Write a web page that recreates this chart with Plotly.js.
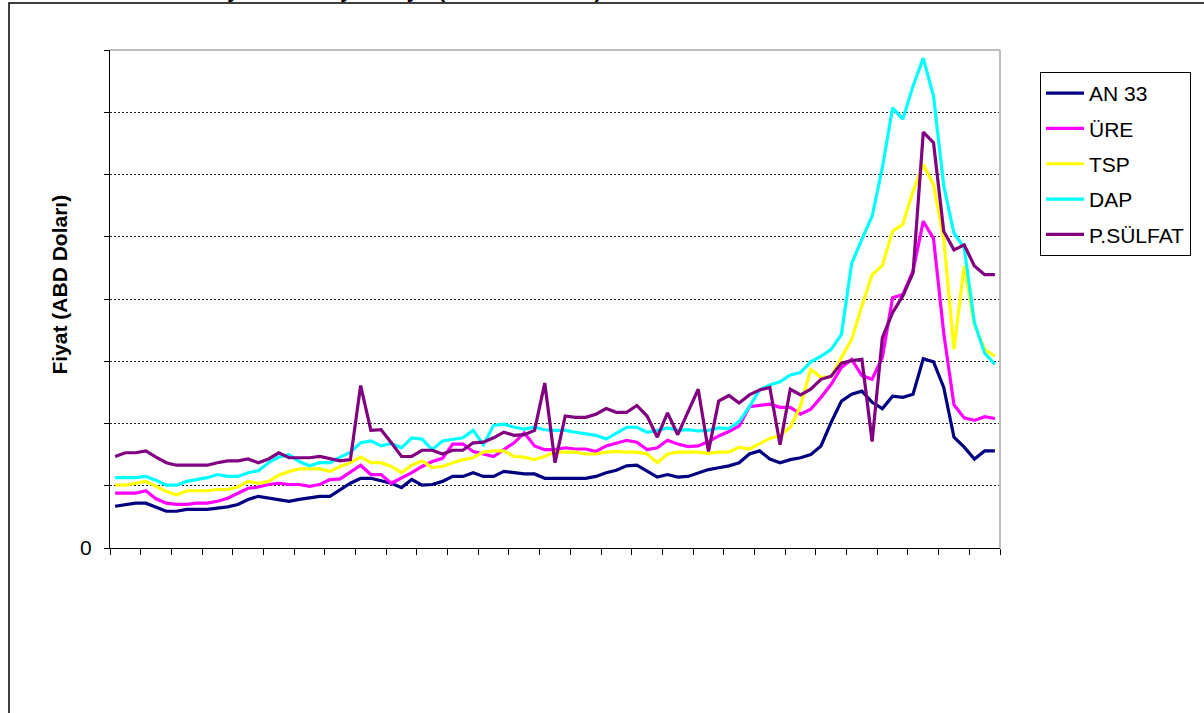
<!DOCTYPE html>
<html>
<head>
<meta charset="utf-8">
<script src="https://cdn.plot.ly/plotly-3.0.1.min.js"></script>
<style>
  html, body { margin: 0; padding: 0; background: #fff; }
  #chart { width: 1204px; height: 713px; }
</style>
</head>
<body>
<div id="chart"></div>
<script>
// Monthly observations (87 periods, index only — no labels shown on the axis)
const months = Array.from({length: 87}, (_, i) => i + 1);

const seriesNames = ["AN 33", "ÜRE", "TSP", "DAP", "P.SÜLFAT"];

const an33 = [67,70,72,72,65,59,59,62,62,62, 64,66,70,78,83,80,78,75,78,80,
  83,83,94,104,112,112,108,104,97,110, 101,102,107,115,115,121,115,115,123,121,
  119,119,112,112,112,112,112,115,121,125, 132,133,123,114,118,114,115,120,126,129,
  132,137,151,156,143,137,142,145,150,164, 202,236,247,252,234,224,244,242,247,304,
  299,258,178,162,143,156,156];

const ure = [88,88,88,92,79,72,70,70,72,72, 75,80,88,96,98,102,104,102,102,99,
  102,110,111,122,133,118,118,104,112,121, 131,139,144,167,167,155,151,147,158,169,
  185,164,158,158,161,159,159,155,164,169, 173,170,158,161,173,167,163,164,171,180,
  187,196,227,229,231,226,226,215,223,242, 263,290,303,277,271,306,402,407,445,525,
  497,345,230,209,205,211,208];

const tsp = [101,101,104,107,99,91,85,92,92,92, 94,94,98,107,104,107,117,123,127,127,
  127,123,131,137,146,137,137,131,121,133, 140,129,131,137,142,145,154,156,156,147,
  146,142,147,154,154,154,151,151,154,155, 154,154,151,137,151,154,154,154,152,154,
  154,162,159,168,176,181,194,228,287,274, 275,306,335,389,439,454,509,520,573,616,
  584,496,319,453,359,319,308];

const dap = [113,113,113,115,109,101,101,107,110,113, 118,115,115,121,124,137,146,150,139,132,
  137,137,146,154,169,172,164,168,161,177, 175,158,172,175,177,189,166,197,199,194,
  191,194,190,189,189,186,183,181,175,185, 194,194,186,189,193,189,190,188,189,193,
  192,203,227,254,262,267,278,282,299,308, 319,343,457,496,533,611,707,689,742,787,
  726,582,506,482,362,313,295];

const psulfat = [147,153,153,156,146,137,133,133,133,133, 137,140,140,143,137,143,153,145,145,145,
  147,143,140,142,261,189,190,169,147,147, 157,157,151,157,157,169,170,177,186,181,
  182,189,265,137,212,210,210,215,224,218, 218,229,212,178,217,182,217,255,155,236,
  245,233,246,254,258,166,255,246,255,271, 276,297,301,303,171,338,378,405,442,668,
  651,509,479,487,453,439,439];

const yTickVals = [0,100,200,300,400,500,600,700,800];
const yTickText = ["0","","","","","","","",""];
const xTickVals = Array.from({length: 30}, (_, k) => 0.5 + 3 * k);

const colors = ["#000080", "#FF00FF", "#FFFF00", "#00FFFF", "#800080"];
const allSeries = [an33, ure, tsp, dap, psulfat];

const FONT = "Arial, 'Liberation Sans', sans-serif";

const traces = allSeries.map((vals, k) => ({
  x: months,
  y: vals,
  type: "scatter",
  mode: "lines",
  name: seriesNames[k],
  legendgroup: "g" + k,
  line: {color: colors[k], width: 3.2},
  hoverinfo: "x+y+name"
}));

const L = 110, R = 1000, T = 50, B = 548, W = 1204, H = 713;
const px = v => (v - L) / (R - L);
const py = v => (B - v) / (B - T);

const layout = {
  width: W, height: H,
  margin: {l: L, r: W - R, t: T, b: H - B, pad: 0},
  paper_bgcolor: "#ffffff",
  plot_bgcolor: "#ffffff",
  font: {family: FONT, size: 21, color: "#000"},
  showlegend: true,
  legend: {
    x: px(1040), y: py(72), xanchor: "left", yanchor: "top",
    bgcolor: "#ffffff", bordercolor: "#000000", borderwidth: 1,
    font: {family: FONT, size: 21, color: "#000"},
    traceorder: "grouped", tracegroupgap: 5, itemwidth: 38
  },
  xaxis: {
    range: [0.5, 87.5], tickmode: "array", tickvals: xTickVals,
    showticklabels: false, ticks: "outside", ticklen: 6, tickcolor: "#000", tickwidth: 1,
    showgrid: false, zeroline: false, showline: true, linecolor: "#000", linewidth: 1,
    fixedrange: true
  },
  yaxis: {
    range: [0, 800], tickmode: "array", tickvals: yTickVals, ticktext: yTickText,
    ticks: "outside", ticklen: 5, tickcolor: "#000", tickwidth: 1,
    tickfont: {family: FONT, size: 21, color: "#000"}, ticklabelstandoff: 8,
    showgrid: true, gridcolor: "#222", griddash: "2px,2px", gridwidth: 1,
    zeroline: false, showline: true, linecolor: "#000", linewidth: 1,
    fixedrange: true
  },
  shapes: [
    {type: "line", xref: "paper", yref: "paper", x0: 0, x1: 1, y0: 1, y1: 1,
     line: {color: "#bdbdbd", width: 2}, layer: "above"},
    {type: "line", xref: "paper", yref: "paper", x0: 1, x1: 1, y0: 0, y1: 1,
     line: {color: "#bdbdbd", width: 2}, layer: "above"},
    {type: "rect", xref: "paper", yref: "paper",
     x0: px(9), x1: px(1215), y0: py(3), y1: py(725),
     line: {color: "#000", width: 1.5}, fillcolor: "rgba(0,0,0,0)", layer: "below"}
  ],
  annotations: [
    {text: "<b>Fiyat (ABD Doları)</b>", xref: "paper", yref: "paper",
     x: px(58.5), y: py(285), xanchor: "center", yanchor: "middle",
     textangle: -90, showarrow: false, font: {family: FONT, size: 21, color: "#000"}},
    {text: "<b>Gübre Fiyatlarının Aylık Seyri (ABD Doları/ton)</b>", xref: "paper", yref: "paper",
     x: px(371), y: py(4), xanchor: "center", yanchor: "bottom",
     showarrow: false, font: {family: FONT, size: 21, color: "#000"}}
  ]
};

Plotly.newPlot("chart", traces, layout, {displayModeBar: false, staticPlot: true});
</script>
</body>
</html>
